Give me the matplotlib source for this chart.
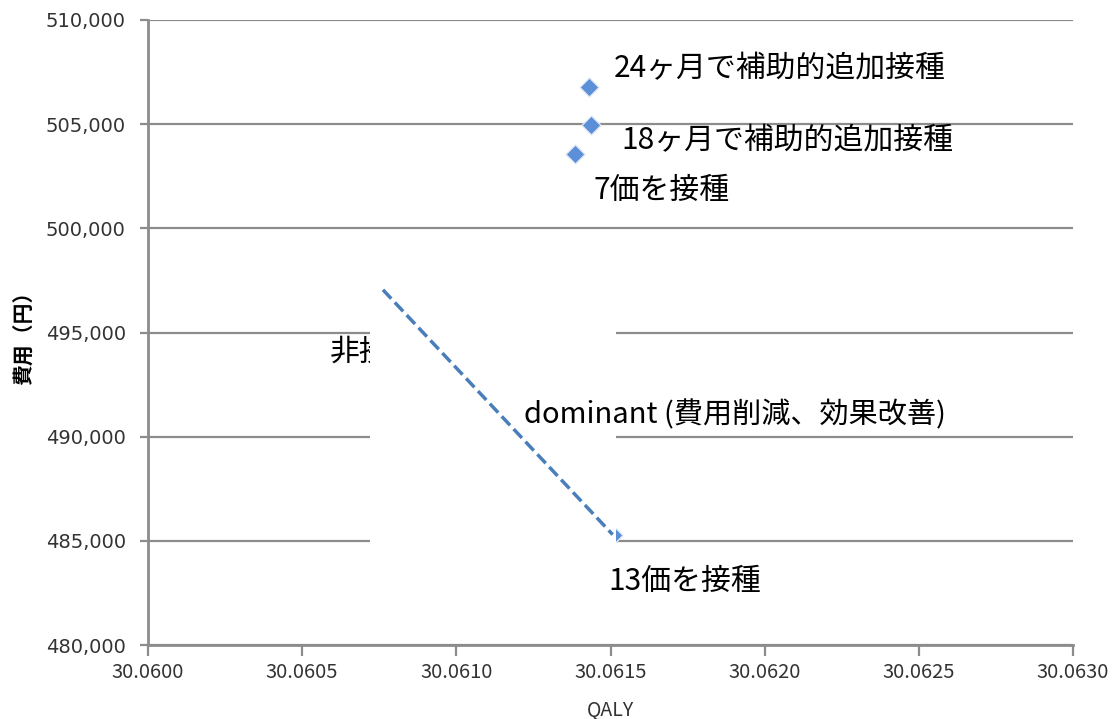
import matplotlib
matplotlib.use("Agg")
import matplotlib.pyplot as plt
from matplotlib.patches import Rectangle
from matplotlib.ticker import FuncFormatter

plt.rcParams['font.family'] = ['Noto Sans CJK JP', 'DejaVu Sans']

# Data
labels = ["非接種", "7価を接種", "13価を接種", "18ヶ月で補助的追加接種", "24ヶ月で補助的追加接種"]
qaly = [30.060762, 30.061385, 30.061507, 30.061437, 30.061430]
cost = [497050, 503550, 485300, 504950, 506800]
xticks = [30.0600, 30.0605, 30.0610, 30.0615, 30.0620, 30.0625, 30.0630]
yticks = [480000, 485000, 490000, 495000, 500000, 505000, 510000]
dominant_text = "dominant (費用削減、効果改善)"

fig = plt.figure(figsize=(11.16, 7.19), dpi=100)
ax = fig.add_axes([0.1326, 0.1029, 0.8289, 0.8693])
ax.set_xlim(xticks[0], xticks[-1])
ax.set_ylim(yticks[0], yticks[-1])
ax.set_xticks(xticks)
ax.set_yticks(yticks)
ax.xaxis.set_major_formatter(FuncFormatter(lambda v, p: f"{v:.4f}"))
ax.yaxis.set_major_formatter(FuncFormatter(lambda v, p: f"{v:,.0f}"))

grey = "#8c8c8c"
ax.grid(axis='y', color=grey, linewidth=1.6, zorder=0)
ax.set_axisbelow(True)
for s in ["top", "right"]:
    ax.spines[s].set_visible(False)
for s in ["left", "bottom"]:
    ax.spines[s].set_color(grey)
    ax.spines[s].set_linewidth(2)
ax.tick_params(axis='both', colors=grey, width=1.6, length=6)
ax.tick_params(axis='y', labelcolor="#333333", labelsize=14, pad=10)
ax.tick_params(axis='x', labelcolor="#333333", labelsize=14.5, length=8, pad=4)
for t in ax.get_yticklabels():
    t.set_family('DejaVu Sans')

ax.set_xlabel("QALY", fontsize=14, color="#333333", labelpad=12)
ax.set_ylabel("費用（円）", fontsize=15, fontweight='bold', color="black", labelpad=8)

blue = "#5b8fd8"
# scatter points (non-vaccination hidden under box)
ax.scatter(qaly, cost, marker='D', s=95, color=blue, edgecolor="#dfe9f7",
           linewidth=1.0, zorder=3)

# label offsets (points)
offsets = [(-38, -45), (13, -26), (-3, -34), (22, -11), (18, 13)]
for lab, x, y, off in zip(labels, qaly, cost, offsets):
    ax.annotate(lab, (x, y), xytext=off, textcoords='offset points',
                fontsize=21.5, va='center', ha='left', color='black', zorder=4)

# white occluding box
ax.add_patch(Rectangle((0.240, 0.155), 0.266, 0.445, transform=ax.transAxes,
                       facecolor='white', edgecolor='none', zorder=5))

# dashed line from 非接種 to 13価
ax.plot([qaly[0], qaly[2]], [cost[0], cost[2]], linestyle=(0, (3.5, 1.5)),
        color="#4a7ebb", linewidth=2.5, zorder=6)

ax.text(0.4065, 0.368, dominant_text, transform=ax.transAxes, fontsize=21,
        va='center', ha='left', color='black', zorder=7)

fig.savefig("out.png", dpi=100)
